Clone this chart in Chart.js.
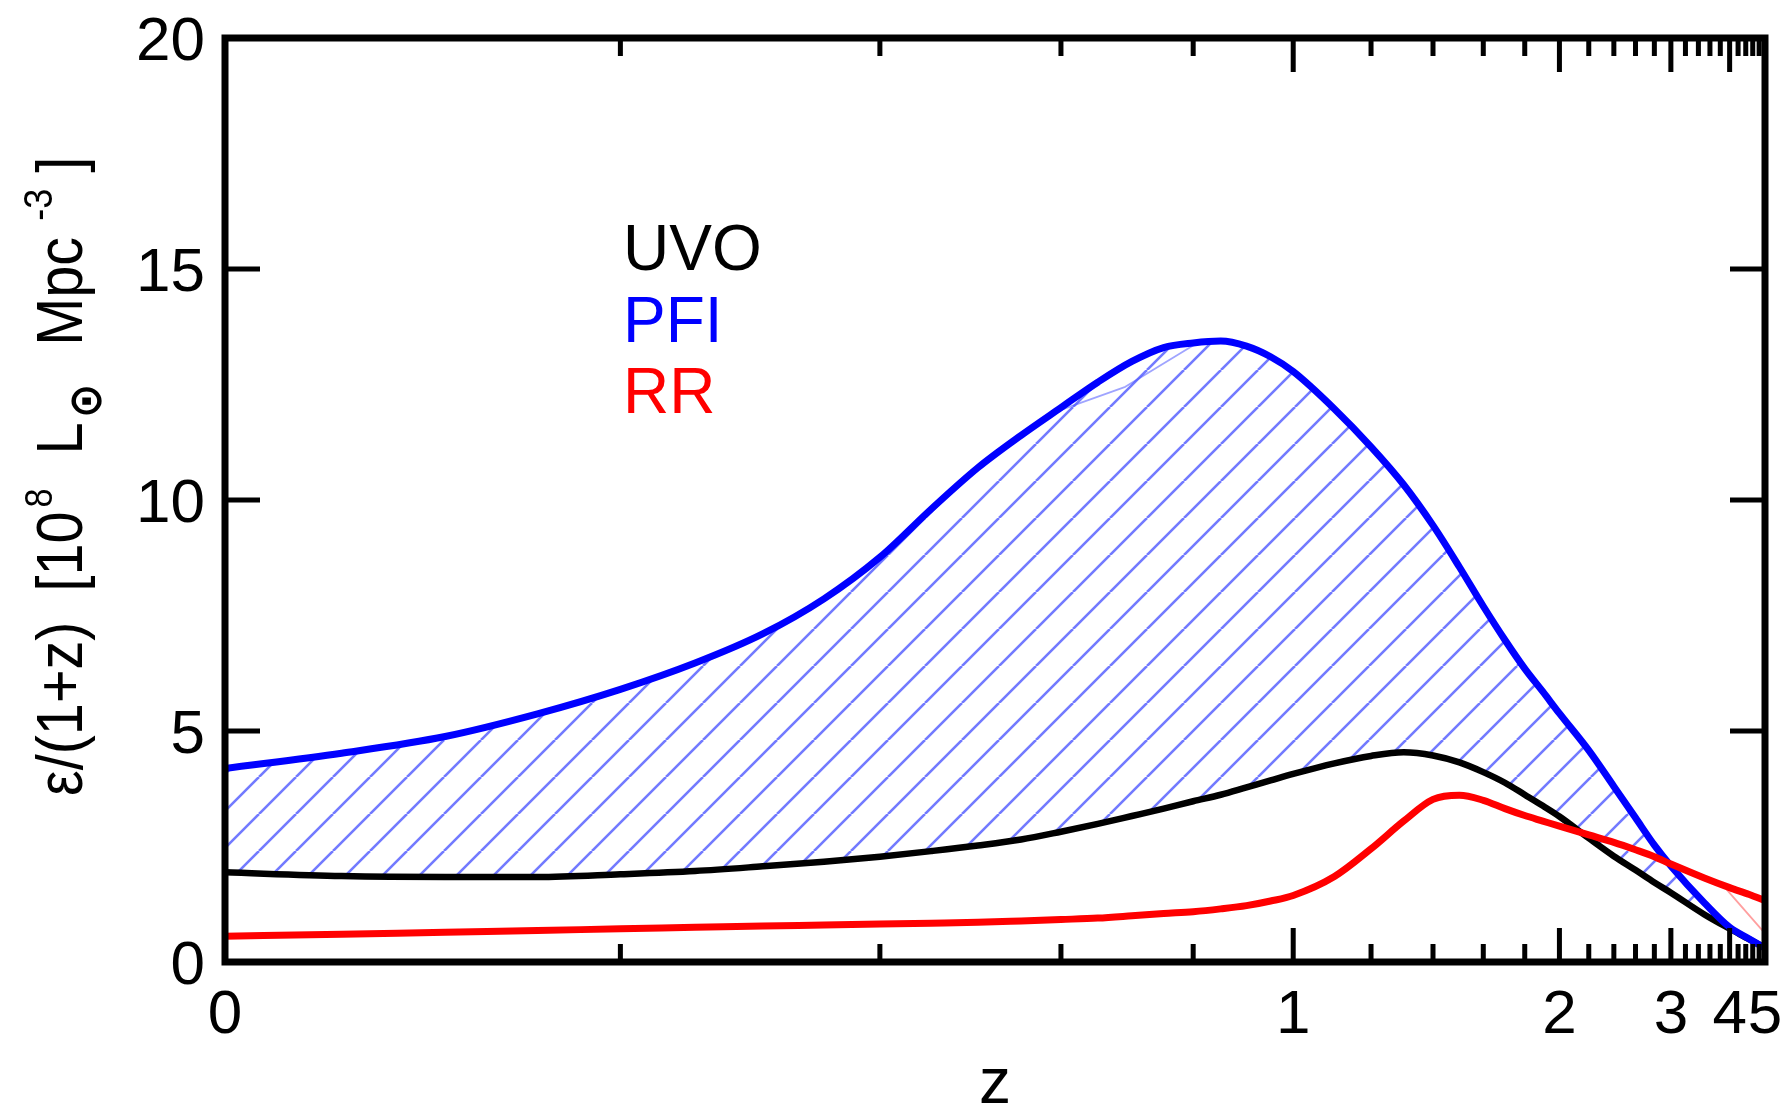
<!DOCTYPE html>
<html>
<head>
<meta charset="utf-8">
<script src="https://cdn.jsdelivr.net/npm/chart.js@4.4.1/dist/chart.umd.min.js"></script>
<style>
  html, body { margin: 0; padding: 0; background: #fff; }
  canvas { display: block; }
</style>
</head>
<body>
<canvas id="lumChart" width="1788" height="1109"></canvas>
<script>
// redshift grid shared by the three curves
const redshifts = [0, 0.05, 0.1, 0.15, 0.2, 0.25, 0.3, 0.35, 0.4, 0.45, 0.5, 0.55, 0.6, 0.65, 0.7, 0.75, 0.8, 0.85, 0.9, 0.95,
                   1.0, 1.1, 1.2, 1.3, 1.4, 1.5, 1.6, 1.7, 1.8, 1.9, 2.0, 2.2, 2.4, 2.6, 2.8, 3.0, 3.5, 4.0, 4.5, 5.0];

// luminosity density / (1+z), units of 1e8 Lsun Mpc^-3
const uvoValues = [1.94, 1.86, 1.84, 1.84, 1.9, 1.97, 2.07, 2.17, 2.28, 2.4, 2.52, 2.65, 2.82, 2.99, 3.16, 3.32, 3.48, 3.62, 3.78, 3.93,
                   4.07, 4.3, 4.46, 4.54, 4.47, 4.32, 4.11, 3.88, 3.62, 3.38, 3.15, 2.68, 2.29, 1.99, 1.72, 1.5, 1.03, 0.72, 0.49, 0.3];
const pfiValues = [4.19, 4.52, 4.88, 5.37, 5.9, 6.47, 7.1, 7.86, 8.76, 9.8, 10.7, 11.4, 12.0, 12.55, 13.0, 13.3, 13.4, 13.44, 13.33, 13.1,
                   12.78, 11.97, 11.15, 10.33, 9.45, 8.55, 7.7, 6.97, 6.35, 5.85, 5.38, 4.58, 3.8, 3.12, 2.53, 2.08, 1.28, 0.75, 0.5, 0.3];
const rrValues  = [0.56, 0.6, 0.645, 0.68, 0.72, 0.75, 0.78, 0.8, 0.82, 0.84, 0.86, 0.89, 0.92, 0.95, 1.0, 1.05, 1.09, 1.15, 1.22, 1.32,
                   1.44, 1.85, 2.45, 3.05, 3.52, 3.61, 3.5, 3.32, 3.17, 3.05, 2.94, 2.75, 2.59, 2.43, 2.28, 2.12, 1.82, 1.61, 1.46, 1.33];

// faint straight edges left over from the shaded regions
const hatchEdgeZ = [0.6, 0.69, 0.81];
const hatchEdgeValues = [11.95, 12.45, 13.42];
const rrEdgeZ = [3.94, 4.9];
const rrEdgeValues = [1.56, 0.69];

const seriesNames  = ['UVO', 'PFI', 'RR'];
const seriesColors = ['#000000', '#0000ff', '#ff0000'];

const yTicks = [0, 5, 10, 15, 20];
const xLabelTicks = [0, 1, 2, 3, 4, 5];
const xTickLabels = ['0', '1', '2', '3', '4', '5'];
const xMajorTicks = [1, 2, 3, 4];
const xMinorTicks = [0.2, 0.4, 0.6, 0.8, 1.2, 1.4, 1.6, 1.8, 2.2, 2.4, 2.6, 2.8, 3.2, 3.4, 3.6, 3.8, 4.2, 4.4, 4.6, 4.8];

const FONT = '"Liberation Sans", Arial, Helvetica, sans-serif';

// x axis runs in cosmic time: position follows 1 - (1+z)^-1.5
const ageFrac = z => 1 - Math.pow(1 + z, -1.5);

class AgeScale extends Chart.LinearScale {
  getPixelForValue(value) {
    const a = ageFrac(this.min), b = ageFrac(this.max);
    return this.getPixelForDecimal((ageFrac(value) - a) / (b - a));
  }
  getValueForPixel(pixel) {
    const a = ageFrac(this.min), b = ageFrac(this.max);
    const t = a + this.getDecimalForPixel(pixel) * (b - a);
    return Math.pow(1 - t, -2 / 3) - 1;
  }
}
AgeScale.id = 'age';
AgeScale.defaults = {};
Chart.register(AgeScale);

const canvas = document.getElementById('lumChart');

// diagonal blue hatching between PFI and UVO
function makeHatch() {
  const s = 37;
  const tile = document.createElement('canvas');
  tile.width = s; tile.height = s;
  const g = tile.getContext('2d');
  g.strokeStyle = 'rgba(60, 70, 255, 0.72)';
  g.lineWidth = 2.6;
  g.beginPath();
  for (const k of [-s, 0, s]) { g.moveTo(k, s); g.lineTo(k + s, 0); }
  g.stroke();
  return canvas.getContext('2d').createPattern(tile, 'repeat');
}

const toPoints = (zs, vals) => zs.map((z, i) => ({ x: z, y: vals[i] }));

// frame, inward ticks, labels and the hand-placed legend
const framePlugin = {
  id: 'frame',
  afterDraw(chart) {
    const { ctx, chartArea: a } = chart;
    const x = chart.scales.x, y = chart.scales.y;
    ctx.save();
    ctx.strokeStyle = '#000';
    ctx.fillStyle = '#000';
    ctx.lineCap = 'butt';

    ctx.lineWidth = 5;
    ctx.beginPath();
    for (const v of yTicks) {
      const py = y.getPixelForValue(v);
      ctx.moveTo(a.left, py); ctx.lineTo(a.left + 35, py);
      ctx.moveTo(a.right, py); ctx.lineTo(a.right - 35, py);
    }
    const xTick = (z, len) => {
      const px = x.getPixelForValue(z);
      ctx.moveTo(px, a.bottom); ctx.lineTo(px, a.bottom - len);
      ctx.moveTo(px, a.top); ctx.lineTo(px, a.top + len);
    };
    xMajorTicks.forEach(z => xTick(z, 34));
    xMinorTicks.forEach(z => xTick(z, 18));
    ctx.stroke();

    ctx.lineWidth = 7;
    ctx.strokeRect(a.left, a.top, a.right - a.left, a.bottom - a.top);

    // tick labels
    ctx.font = '62px ' + FONT;
    ctx.textBaseline = 'alphabetic';
    ctx.textAlign = 'right';
    yTicks.forEach(v => ctx.fillText(String(v), a.left - 20, y.getPixelForValue(v) + 22));
    ctx.textAlign = 'center';
    xLabelTicks.forEach((z, i) => ctx.fillText(xTickLabels[i], x.getPixelForValue(z), a.bottom + 71));

    // x title
    ctx.font = '64px ' + FONT;
    ctx.fillText('z', (a.left + a.right) / 2, 1103);

    // series names
    ctx.textAlign = 'left';
    seriesNames.forEach((name, i) => {
      ctx.fillStyle = seriesColors[i];
      ctx.fillText(name, 623, 270 + i * 71.5);
    });

    drawYTitle(ctx);
    ctx.restore();
  }
};

function drawYTitle(ctx) {
  const sx = 0.9;
  const parts = [
    { t: 'ε/(1+z)', size: 64, gap: 0, dy: 0 },
    { t: '[10', size: 64, gap: 30, dy: 0 },
    { t: '8', size: 38, gap: 4, dy: -30 },
    { t: 'L', size: 64, gap: 34, dy: 0 },
    { t: '⊙', size: 46, gap: 4, dy: 19, font: 'bold 46px "DejaVu Sans", sans-serif' },
    { t: 'Mpc', size: 64, gap: 38, dy: 0 },
    { t: '-3', size: 40, gap: 16, dy: -30 },
    { t: ']', size: 64, gap: 16, dy: 0 }
  ];
  ctx.save();
  ctx.fillStyle = '#000';
  ctx.translate(82, 796);
  ctx.rotate(-Math.PI / 2);
  ctx.scale(sx, 1);
  ctx.textAlign = 'left';
  ctx.textBaseline = 'alphabetic';
  let u = 0;
  for (const p of parts) {
    u += p.gap / sx;
    ctx.font = p.font || (p.size + 'px ' + FONT);
    ctx.fillText(p.t, u, p.dy);
    u += ctx.measureText(p.t).width;
  }
  ctx.restore();
}

new Chart(canvas, {
  type: 'line',
  data: {
    datasets: [
      { label: seriesNames[0], data: toPoints(redshifts, uvoValues), borderColor: seriesColors[0], borderWidth: 6.5, fill: false, order: 2 },
      { label: seriesNames[1], data: toPoints(redshifts, pfiValues), borderColor: seriesColors[1], borderWidth: 7, fill: '-1', backgroundColor: makeHatch(), order: 1 },
      { label: seriesNames[2], data: toPoints(redshifts, rrValues), borderColor: seriesColors[2], borderWidth: 7, fill: false, order: 0 },
      { label: 'edge1', data: toPoints(hatchEdgeZ, hatchEdgeValues), borderColor: 'rgba(80, 90, 255, 0.55)', borderWidth: 1.8, fill: false, tension: 0, cubicInterpolationMode: 'default', order: 3 },
      { label: 'edge2', data: toPoints(rrEdgeZ, rrEdgeValues), borderColor: 'rgba(255, 80, 80, 0.55)', borderWidth: 1.8, fill: false, tension: 0, cubicInterpolationMode: 'default', order: 3 }
    ]
  },
  options: {
    responsive: false,
    animation: false,
    devicePixelRatio: 1,
    layout: { padding: { left: 225, right: 23, top: 38, bottom: 147 } },
    elements: {
      point: { radius: 0 },
      line: { cubicInterpolationMode: 'monotone', borderJoinStyle: 'round', borderCapStyle: 'round' }
    },
    scales: {
      x: { type: 'age', min: 0, max: 5, display: false },
      y: { type: 'linear', min: 0, max: 20, display: false }
    },
    plugins: {
      legend: { display: false },
      tooltip: { enabled: false },
      filler: { drawTime: 'beforeDatasetsDraw' }
    }
  },
  plugins: [framePlugin]
});
</script>
</body>
</html>
